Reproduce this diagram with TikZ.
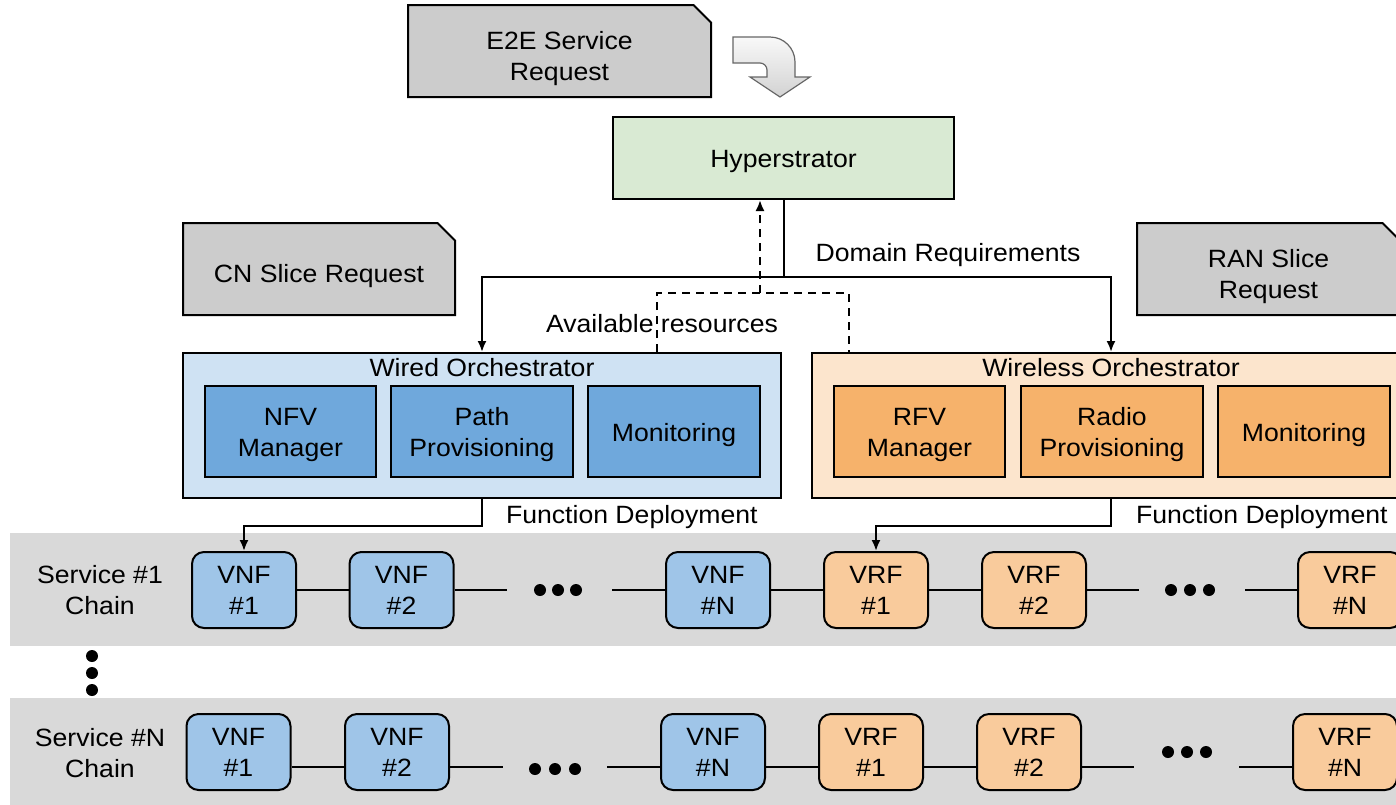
\documentclass[tikz,border=0pt]{standalone}
\usepackage{fontspec}
\setmainfont{Liberation Sans}[FakeStretch=1.065]
\usetikzlibrary{arrows.meta,shapes.misc}

\definecolor{reqgray}{HTML}{CCCCCC}
\definecolor{hypergreen}{HTML}{D9EAD3}
\definecolor{wiredblue}{HTML}{CFE2F3}
\definecolor{nfvblue}{HTML}{6FA8DC}
\definecolor{vnfblue}{HTML}{9FC5E8}
\definecolor{wirelessorange}{HTML}{FCE5CD}
\definecolor{rfvorange}{HTML}{F6B26B}
\definecolor{vrforange}{HTML}{F9CB9C}
\definecolor{bandgray}{HTML}{D9D9D9}

\begin{document}
\begin{tikzpicture}
    [ x=1pt, y=-1pt
    , line width=2pt
    , every node/.style={font=\fontsize{25}{31}\selectfont, align=center, inner sep=0pt}
    , request/.style={chamfered rectangle, chamfered rectangle corners=north east,
        chamfered rectangle xsep=14pt, draw, fill=reqgray, text height=64pt}
    , orch/.style={draw, minimum width=598, minimum height=145}
    , module/.style={draw, minimum width=#1, minimum height=91, text height=56pt}
    , func/.style={draw, rounded corners=12pt, minimum width=104, minimum height=76}
    , band/.style={fill=bandgray, minimum width=1400, minimum height=113}
    , flow/.style={-{Latex[length=11pt,width=9pt]}}
    , avail/.style={dash pattern=on 8pt off 6pt}
    ]
  \useasboundingbox (0,0) rectangle (1396,804);

  % service chain bands
  \node[band] (band1) at (710,589.5) {};
  \node[band] (bandN) at (710,754) {};

  % requests
  \node[request, minimum width=303, minimum height=92] (e2e) at (559.5,51) {E2E Service\\Request};
  \node[request, minimum width=272, minimum height=92, text height=33pt] (cnreq) at (319,269) {CN Slice Request};
  \node[request, minimum width=263, minimum height=92] (ranreq) at (1268.5,269) {RAN Slice\\Request};

  % bent block arrow
  \draw[line width=1.2pt, draw=gray!80!black, top color=gray!5, bottom color=gray!35]
    (733,37) -- (770,37) arc[start angle=-90, end angle=0, radius=25]
    -- (795,77) -- (810,77) -- (780,97) -- (750,77) -- (767,77) -- (767,70)
    arc[start angle=0, end angle=-90, radius=7] -- (733,63) -- cycle;

  \node[draw, fill=hypergreen, minimum width=341, minimum height=82, text height=24.5pt] (hyper) at (783.5,158) {Hyperstrator};

  % orchestrators
  \node[orch, fill=wiredblue] (wired) at (482,425.5) {};
  \node[anchor=base] (wiredtitle) at ([yshift=-24pt]wired.north) {Wired Orchestrator};
  \node[module=171, fill=nfvblue] (nfv) at (290.5,431.5) {NFV\\Manager};
  \node[module=182, fill=nfvblue] (pathprov) at (482,431.5) {Path\\Provisioning};
  \node[module=172, fill=nfvblue, text height=25.5pt] (wiredmon) at (674,431.5) {Monitoring};

  \node[orch, fill=wirelessorange] (wireless) at (1111,425.5) {};
  \node[anchor=base] (wirelesstitle) at ([yshift=-24pt]wireless.north) {Wireless Orchestrator};
  \node[module=171, fill=rfvorange] (rfv) at (919.5,431.5) {RFV\\Manager};
  \node[module=182, fill=rfvorange] (radioprov) at (1112,431.5) {Radio\\Provisioning};
  \node[module=172, fill=rfvorange, text height=25.5pt] (wirelessmon) at (1304,431.5) {Monitoring};

  % domain requirements
  \coordinate (split) at (783.5,277);
  \draw (hyper.south) -- (split);
  \draw[flow] (split) -| (wired.north);
  \draw[flow] (split) -| (wireless.north);
  \node[anchor=base] (domreq) at (948,261) {Domain Requirements};

  % available resources
  \coordinate (merge) at (760,293);
  \draw[avail] ([xshift=175pt]wired.north) |- (merge) -| ([xshift=-262pt]wireless.north);
  \draw[avail, flow] (merge) -- (merge |- hyper.south);
  \node[anchor=base] (availres) at (662,332) {Available resources};

  % service chain #1
  \node (svc1) at (100,590) {Service \#1\\Chain};
  \node[func, fill=vnfblue] (vnf11) at (244,590) {VNF\\\#1};
  \node[func, fill=vnfblue] (vnf12) at (401.5,590) {VNF\\\#2};
  \node[func, fill=vnfblue] (vnf1N) at (718,590) {VNF\\\#N};
  \node[func, fill=vrforange] (vrf11) at (876,590) {VRF\\\#1};
  \node[func, fill=vrforange] (vrf12) at (1034,590) {VRF\\\#2};
  \node[func, fill=vrforange] (vrf1N) at (1350,590) {VRF\\\#N};

  \coordinate (gap11) at (507,590);
  \coordinate (gap12) at (612,590);
  \coordinate (gap13) at (1139,590);
  \coordinate (gap14) at (1245,590);
  \draw (vnf11.east) -- (vnf12.west);
  \draw (vnf12.east) -- (gap11);
  \draw (gap12) -- (vnf1N.west);
  \draw (vnf1N.east) -- (vrf11.west);
  \draw (vrf11.east) -- (vrf12.west);
  \draw (vrf12.east) -- (gap13);
  \draw (gap14) -- (vrf1N.west);
  \foreach \x in {540,558,576} \fill (\x,590) circle[radius=6];
  \foreach \x in {1171,1190,1209} \fill (\x,590) circle[radius=6];

  % more chains
  \foreach \y in {656,673,690} \fill (92,\y) circle[radius=6];

  % service chain #N
  \node (svcN) at (100,753) {Service \#N\\Chain};
  \node[func, fill=vnfblue] (vnfN1) at (238.5,752) {VNF\\\#1};
  \node[func, fill=vnfblue] (vnfN2) at (397,752) {VNF\\\#2};
  \node[func, fill=vnfblue] (vnfNN) at (713,752) {VNF\\\#N};
  \node[func, fill=vrforange] (vrfN1) at (871,752) {VRF\\\#1};
  \node[func, fill=vrforange] (vrfN2) at (1029,752) {VRF\\\#2};
  \node[func, fill=vrforange] (vrfNN) at (1345,752) {VRF\\\#N};

  \coordinate (gapN1) at (503,767);
  \coordinate (gapN2) at (607,767);
  \coordinate (gapN3) at (1134,767);
  \coordinate (gapN4) at (1239,767);
  \draw ([yshift=-15pt]vnfN1.east) -- ([yshift=-15pt]vnfN2.west);
  \draw ([yshift=-15pt]vnfN2.east) -- (gapN1);
  \draw (gapN2) -- ([yshift=-15pt]vnfNN.west);
  \draw ([yshift=-15pt]vnfNN.east) -- ([yshift=-15pt]vrfN1.west);
  \draw ([yshift=-15pt]vrfN1.east) -- ([yshift=-15pt]vrfN2.west);
  \draw ([yshift=-15pt]vrfN2.east) -- (gapN3);
  \draw (gapN4) -- ([yshift=-15pt]vrfNN.west);
  \foreach \x in {535,555,575} \fill (\x,769) circle[radius=6];
  \foreach \x in {1168,1187,1206} \fill (\x,752) circle[radius=6];

  % function deployment
  \draw[flow] (wired.south) -- ++(0,27) -| (vnf11.north);
  \draw[flow] (wireless.south) -- ++(0,27) -| (vrf11.north);
  \node[anchor=base west] (deploywired) at (505,523) {Function Deployment};
  \node[anchor=base west] (deploywireless) at (1135,523) {Function Deployment};
\end{tikzpicture}
\end{document}
